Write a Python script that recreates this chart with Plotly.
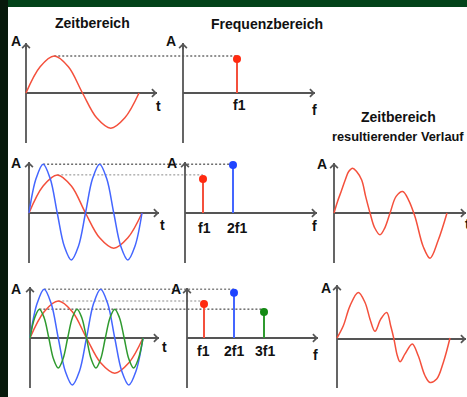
import plotly.graph_objects as go

W, H = 467, 397

# ---------------- data ----------------
# time axis: fraction of one period of f1; amplitude: red peak = 1
t8 = [k / 8 for k in range(9)]
t16 = [k / 16 for k in range(17)]
t24 = [k / 24 for k in range(25)]

row1_red = [0, 0.71, 1.00, 0.71, 0, -0.67, -0.95, -0.67, 0]

row2_red = [0, 0.73, 1.03, 0.73, 0, -0.67, -0.95, -0.67, 0]
row2_blue = [0, 0.93, 1.32, 0.93, 0, -0.90, -1.27, -0.90,
             0, 0.93, 1.32, 0.93, 0, -0.90, -1.27, -0.90, 0]

row3_red = [0, 0.71, 1.00, 0.71, 0, -0.67, -0.95, -0.67, 0]
row3_blue = [0, 0.93, 1.32, 0.93, 0, -0.90, -1.27, -0.90,
             0, 0.93, 1.32, 0.93, 0, -0.90, -1.27, -0.90, 0]
row3_green = [0, 0.55, 0.78, 0.55, 0, -0.57, -0.81, -0.57,
              0, 0.55, 0.78, 0.55, 0, -0.57, -0.81, -0.57,
              0, 0.55, 0.78, 0.55, 0, -0.57, -0.81, -0.57, 0]

# spectra (multiples of f1 and line heights)
freq_labels = ["f1", "2f1", "3f1"]
row1_freq, row1_amp = [1], [0.92]
row2_freq, row2_amp = [1, 2], [0.92, 1.30]
row3_freq, row3_amp = [1, 2, 3], [0.92, 1.22, 0.70]

# resulting waveforms
row2_res_t = [0, 0.03, 0.068, 0.10, 0.13, 0.165, 0.20, 0.245, 0.28, 0.319, 0.36,
              0.407, 0.45, 0.496, 0.55, 0.608, 0.66, 0.717, 0.79, 0.85, 0.923, 1.0]
row2_res_a = [0, 0.30, 0.62, 0.90, 1.12, 1.21, 1.12, 0.89, 0.45, 0, -0.40,
              -0.59, -0.40, 0, 0.45, 0.58, 0.35, -0.10, -0.91, -1.22, -0.73, 0]

row3_res_t = [0, 0.056, 0.115, 0.188, 0.248, 0.292, 0.336, 0.387, 0.44, 0.475, 0.504,
              0.534, 0.558, 0.602, 0.666, 0.719, 0.779, 0.823, 0.882, 0.941, 1.0]
row3_res_a = [0, 0.33, 0.87, 1.23, 0.96, 0.51, 0.18, 0.51, 0.69, 0.33, -0.03,
              -0.48, -0.64, -0.43, -0.16, -0.48, -1.02, -1.20, -1.11, -0.66, 0]

# ---------------- geometry ----------------
PX_A = 37.0    # px per amplitude unit
PX_T = 113.0   # px per period
PX_F = 30.0    # px per multiple of f1

rows = {
    1: dict(top=30, bottom=150, oy=93, name="y"),
    2: dict(top=150, bottom=272, oy=213, name="y2"),
    3: dict(top=272, bottom=397, oy=338, name="y3"),
}
# key, row, x0px, x1px, origin px, px per unit
panels = {
    "x":  (1, 0, 170, 26, PX_T),
    "x2": (1, 170, 320, 207, PX_F),
    "x3": (2, 0, 170, 29, PX_T),
    "x4": (2, 170, 320, 173, PX_F),
    "x5": (2, 320, 467, 334, PX_T),
    "x6": (3, 0, 170, 30, PX_T),
    "x7": (3, 170, 320, 174, PX_F),
    "x8": (3, 320, 467, 337, PX_T),
}

RED, BLUE, GREEN = "#f4503c", "#4466ff", "#2f9a2f"
RED_D, BLUE_D, GREEN_D = "#ff2a10", "#1f44ff", "#148a14"
AX = "#555555"
FONT = "Liberation Sans, Arial, sans-serif"


def px(x):
    return x / W


def py(y):
    return 1 - y / H


def paper_x(panel, v):
    _, _, _, ox, s = panels[panel]
    return (ox + v * s) / W


layout = dict(
    width=W, height=H, margin=dict(l=0, r=0, t=0, b=0),
    paper_bgcolor="#07190b", plot_bgcolor="rgba(0,0,0,0)",
    showlegend=False, hovermode=False,
)
for key, (r, a, b, ox, s) in panels.items():
    ax_name = "xaxis" if key == "x" else "xaxis" + key[1:]
    layout[ax_name] = dict(domain=[a / W, b / W], range=[(a - ox) / s, (b - ox) / s],
                           anchor=rows[r]["name"], visible=False, fixedrange=True)
first_x = {1: "x", 2: "x3", 3: "x6"}
for r, d in rows.items():
    ay_name = "yaxis" if d["name"] == "y" else "yaxis" + d["name"][1:]
    layout[ay_name] = dict(domain=[py(d["bottom"]), py(d["top"])],
                           range=[(d["oy"] - d["bottom"]) / PX_A, (d["oy"] - d["top"]) / PX_A],
                           anchor=first_x[r], visible=False, fixedrange=True)

fig = go.Figure(layout=layout)


def curve(t, a, xa, ya, color):
    fig.add_trace(go.Scatter(x=t, y=a, xaxis=xa, yaxis=ya, mode="lines",
                             line=dict(color=color, width=1.5, shape="spline", smoothing=1),
                             hoverinfo="skip"))


# time-domain components
curve(t8, row1_red, "x", "y", RED)
curve(t8, row2_red, "x3", "y2", RED)
curve(t16, row2_blue, "x3", "y2", BLUE)
curve(t8, row3_red, "x6", "y3", RED)
curve(t16, row3_blue, "x6", "y3", BLUE)
curve(t24, row3_green, "x6", "y3", GREEN)
# resulting waveforms
curve(row2_res_t, row2_res_a, "x5", "y2", RED)
curve(row3_res_t, row3_res_a, "x8", "y3", RED)

shapes = [
    dict(type="rect", xref="paper", yref="paper", x0=px(8), x1=1, y0=0, y1=py(7),
         fillcolor="white", line=dict(width=0), layer="below"),
    dict(type="rect", xref="paper", yref="paper", x0=px(8), x1=1, y0=py(7), y1=1,
         fillcolor="#03431a", line=dict(width=0), layer="below"),
]

# spectra: stems + dots + dashed link lines
spec = [
    (1, "x", "x2", "y", row1_freq, row1_amp, [(t8, row1_red, "#222222")], [RED], [RED_D]),
    (2, "x3", "x4", "y2", row2_freq, row2_amp,
     [(t8, row2_red, "#8a8a8a"), (t16, row2_blue, "#222222")], [RED, BLUE], [RED_D, BLUE_D]),
    (3, "x6", "x7", "y3", row3_freq, row3_amp,
     [(t8, row3_red, "#8a8a8a"), (t16, row3_blue, "#444444"), (t24, row3_green, "#222222")],
     [RED, BLUE, GREEN], [RED_D, BLUE_D, GREEN_D]),
]
for r, xt, xf, ya, freqs, amps, comps, cols, dcols in spec:
    for f, a, (tt, aa, dcol), c, dc in zip(freqs, amps, comps, cols, dcols):
        peak = max(aa)
        tp = tt[aa.index(peak)]
        shapes.append(dict(type="line", xref="paper", yref=ya,
                           x0=paper_x(xt, tp), x1=paper_x(xf, f), y0=peak, y1=peak,
                           line=dict(color=dcol, width=1, dash="2px,2px"), layer="below"))
        fig.add_trace(go.Scatter(x=[f, f], y=[0, a], xaxis=xf, yaxis=ya, mode="lines",
                                 line=dict(color=c, width=2), hoverinfo="skip"))
        fig.add_trace(go.Scatter(x=[f], y=[a], xaxis=xf, yaxis=ya, mode="markers",
                                 marker=dict(color=dc, size=8), hoverinfo="skip"))

# drawn axes (px coordinates): (x, y_bottom, y_top) and (y, x_left, x_tip)
vaxes = [(26, 143, 43), (183, 143, 43), (29, 263, 162), (185, 263, 162), (334, 263, 163),
         (30, 388, 287), (187, 388, 288), (337, 388, 285)]
haxes = [(93, 26, 157), (93, 183, 315), (213, 29, 159), (213, 185, 317), (213, 334, 466),
         (338, 30, 159), (338, 187, 318), (339, 337, 466)]
annotations = []
for x, yb, yt in vaxes:
    shapes.append(dict(type="line", xref="paper", yref="paper", x0=px(x), x1=px(x),
                       y0=py(yb), y1=py(yt), line=dict(color=AX, width=1.8), layer="below"))
    annotations.append(dict(x=px(x), y=py(yt), xref="paper", yref="paper", text="",
                            showarrow=True, ax=0, ay=8, arrowhead=4, arrowsize=1,
                            arrowwidth=1.5, arrowcolor=AX, standoff=0))
for y, xl, xt in haxes:
    shapes.append(dict(type="line", xref="paper", yref="paper", x0=px(xl), x1=px(xt),
                       y0=py(y), y1=py(y), line=dict(color=AX, width=1.8), layer="below"))
    annotations.append(dict(x=px(xt), y=py(y), xref="paper", yref="paper", text="",
                            showarrow=True, ax=-8, ay=0, arrowhead=4, arrowsize=1,
                            arrowwidth=1.5, arrowcolor=AX, standoff=0))


def label(text, x, y, size=14):
    annotations.append(dict(x=px(x), y=py(y), xref="paper", yref="paper",
                            text="<b>" + text + "</b>", showarrow=False,
                            xanchor="center", yanchor="middle",
                            font=dict(family=FONT, size=size, color="#111111")))


label("Zeitbereich", 92, 23)
label("Frequenzbereich", 267, 24)
label("Zeitbereich", 398, 117)
label("resultierender Verlauf", 398, 136, 12.8)
for x, y in [(16, 41), (171, 41), (16, 163), (172, 163), (322, 164),
             (16, 289), (176, 289), (326, 288)]:
    label("A", x, y, 14)
for x, y in [(158, 106), (162, 225), (467, 224), (164, 347), (470, 348)]:
    label("t", x, y, 14)
for x, y in [(314, 110), (314, 226), (315, 355)]:
    label("f", x, y, 14)
label(freq_labels[0], 239, 105)
label(freq_labels[0], 204, 228)
label(freq_labels[1], 237.5, 228)
label(freq_labels[0], 203, 351)
label(freq_labels[1], 234, 351)
label(freq_labels[2], 265, 351)

fig.update_layout(shapes=shapes, annotations=annotations)
fig.write_html("out.html", config={"displayModeBar": False},
               post_script="document.body.style.margin='0';"
                           "document.body.style.overflow='hidden';")
